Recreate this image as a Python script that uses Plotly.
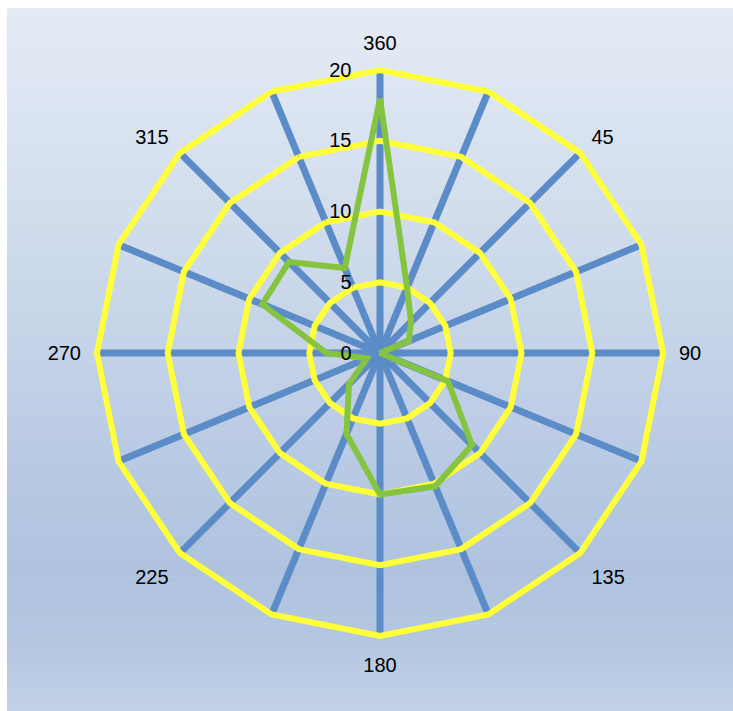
import plotly.graph_objects as go

# Sixteen compass directions (degrees), labelled every 45 degrees
directions = ["360", "22.5", "45", "67.5", "90", "112.5", "135", "157.5",
              "180", "202.5", "225", "247.5", "270", "292.5", "315", "337.5"]
direction_labels = ["360", "", "45", "", "90", "", "135", "",
                    "180", "", "225", "", "270", "", "315", ""]
values = [18, 5, 3.1, 2.2, 0, 5.2, 9.2, 10.2,
          10, 6.2, 3.1, 1, 3.8, 9, 9.1, 6.5]
radial_ticks = [0, 5, 10, 15, 20]

W, H = 733, 711

fig = go.Figure()

fig.add_trace(go.Scatterpolar(
    r=values + values[:1],
    theta=directions + directions[:1],
    mode="lines",
    line=dict(color="#84C441", width=6),
    hoverinfo="skip",
    showlegend=False,
))

# Vertical background gradient built from thin bands
stops = [(0.0, (228, 235, 245)), (0.32, (208, 220, 236)), (0.62, (186, 203, 228)),
         (0.80, (175, 195, 223)), (0.90, (180, 199, 225)), (1.0, (193, 209, 231))]


def grad(t):
    for (t0, c0), (t1, c1) in zip(stops[:-1], stops[1:]):
        if t <= t1:
            f = (t - t0) / (t1 - t0)
            return tuple(round(a + (b - a) * f) for a, b in zip(c0, c1))
    return stops[-1][1]


shapes = []
top, left = 8, 7
n = 120
for i in range(n):
    y0 = top + (H - top) * i / n
    y1 = top + (H - top) * (i + 1) / n + 0.6
    c = grad((i + 0.5) / n)
    shapes.append(dict(
        type="rect", xref="paper", yref="paper", layer="below",
        x0=left / W, x1=1, y0=1 - y1 / H, y1=1 - y0 / H,
        line=dict(width=0), fillcolor="rgb(%d,%d,%d)" % c,
    ))

cx, cy, rad = 380, 353, 283
fig.update_layout(
    width=W, height=H,
    margin=dict(l=0, r=0, t=0, b=0),
    paper_bgcolor="white",
    shapes=shapes,
    font=dict(family="Liberation Sans, Arial, sans-serif", size=20, color="black"),
    polar=dict(
        domain=dict(x=[(cx - rad) / W, (cx + rad) / W],
                    y=[1 - (cy + rad) / H, 1 - (cy - rad) / H]),
        bgcolor="rgba(0,0,0,0)",
        gridshape="linear",
        angularaxis=dict(
            type="category",
            categoryarray=directions,
            rotation=90,
            direction="clockwise",
            tickmode="array",
            tickvals=directions,
            ticktext=direction_labels,
            ticks="outside",
            ticklen=9,
            tickcolor="rgba(0,0,0,0)",
            showgrid=True,
            gridcolor="#5B8CC8",
            gridwidth=7,
            showline=True,
            linecolor="#FFFF3A",
            linewidth=6,
            tickfont=dict(size=20, color="black"),
        ),
        radialaxis=dict(
            range=[0, 20],
            tickmode="array",
            tickvals=radial_ticks,
            angle=90,
            tickangle=90,
            side="counterclockwise",
            showline=False,
            ticks="outside",
            ticklen=21,
            tickcolor="rgba(0,0,0,0)",
            gridcolor="#FFFF3A",
            gridwidth=6,
            tickfont=dict(size=20, color="black"),
        ),
    ),
)

fig.write_html("out.html")
